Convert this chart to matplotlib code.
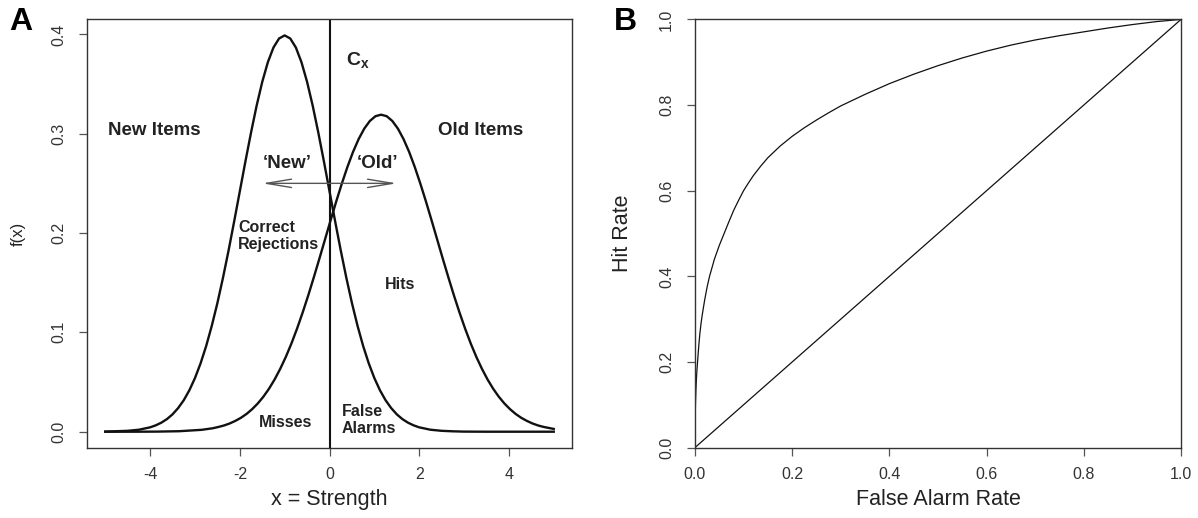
import matplotlib
matplotlib.use('Agg')
import matplotlib.pyplot as plt

plt.rcParams['font.family'] = ['Liberation Sans', 'DejaVu Sans']
plt.rcParams['mathtext.fontset'] = 'custom'
plt.rcParams['mathtext.rm'] = 'Liberation Sans'
plt.rcParams['mathtext.bf'] = 'Liberation Sans:bold'
plt.rcParams['axes.unicode_minus'] = False

# panel A: densities
new_x = [-5.0, -4.5, -4.25, -4.0, -3.875, -3.75, -3.625, -3.5, -3.375, -3.25, -3.125, -3.0,
         -2.875, -2.75, -2.625, -2.5, -2.375, -2.25, -2.125, -2.0, -1.875, -1.75, -1.625,
         -1.5, -1.375, -1.25, -1.125, -1.0, -0.875, -0.75, -0.625, -0.5, -0.375, -0.25,
         -0.125, 0.0, 0.125, 0.25, 0.375, 0.5, 0.625, 0.75, 0.875, 1.0, 1.125, 1.25, 1.375,
         1.5, 1.625, 1.75, 1.875, 2.0, 2.25, 2.5, 2.75, 3.0, 3.5, 4.0, 5.0]
new_y = [0.0001, 0.0009, 0.0020, 0.0044, 0.0064, 0.0091, 0.0127, 0.0175, 0.0238, 0.0317,
         0.0417, 0.054, 0.0688, 0.0863, 0.1066, 0.1295, 0.1550, 0.1826, 0.2119, 0.242,
         0.2721, 0.3011, 0.3282, 0.3521, 0.3719, 0.3867, 0.3958, 0.3989, 0.3958, 0.3867,
         0.3719, 0.3521, 0.3282, 0.3011, 0.2721, 0.242, 0.2119, 0.1826, 0.1550, 0.1295,
         0.1066, 0.0863, 0.0688, 0.054, 0.0417, 0.0317, 0.0238, 0.0175, 0.0127, 0.0091,
         0.0064, 0.0044, 0.0020, 0.0009, 0.0004, 0.0001, 0.0, 0.0, 0.0]

old_x = [-5.0, -4.35, -3.85, -3.35, -2.85, -2.6, -2.475, -2.35, -2.225, -2.1, -1.975, -1.85,
         -1.725, -1.6, -1.475, -1.35, -1.225, -1.1, -0.975, -0.85, -0.725, -0.6, -0.475,
         -0.35, -0.225, -0.1, 0.025, 0.15, 0.275, 0.4, 0.525, 0.65, 0.775, 0.9, 1.025, 1.15,
         1.275, 1.4, 1.525, 1.65, 1.775, 1.9, 2.025, 2.15, 2.275, 2.4, 2.525, 2.65, 2.775,
         2.9, 3.025, 3.15, 3.275, 3.4, 3.525, 3.65, 3.775, 3.9, 4.025, 4.15, 4.275, 4.4,
         4.525, 4.65, 4.775, 5.0]
old_y = [0.0, 0.0, 0.0001, 0.0005, 0.0019, 0.0035, 0.0048, 0.0063, 0.0083, 0.0109, 0.0140,
         0.0179, 0.0227, 0.0284, 0.0352, 0.0432, 0.0525, 0.0632, 0.0752, 0.0887, 0.1036,
         0.1198, 0.1371, 0.1554, 0.1743, 0.1936, 0.2129, 0.2318, 0.2498, 0.2666, 0.2817,
         0.2946, 0.3051, 0.3128, 0.3176, 0.3191, 0.3176, 0.3128, 0.3051, 0.2946, 0.2817,
         0.2666, 0.2498, 0.2318, 0.2129, 0.1936, 0.1743, 0.1554, 0.1371, 0.1198, 0.1036,
         0.0887, 0.0752, 0.0632, 0.0525, 0.0432, 0.0352, 0.0284, 0.0227, 0.0179, 0.0140,
         0.0109, 0.0083, 0.0063, 0.0048, 0.0028]

criterion = 0.0
arrow_left, arrow_right, arrow_y = -1.5, 1.5, 0.25

# panel B: ROC curve
fa_rate = [0.0, 0.0005, 0.001, 0.002, 0.003, 0.004, 0.006, 0.008, 0.01, 0.0125, 0.015, 0.02,
           0.025, 0.03, 0.035, 0.04, 0.05, 0.06, 0.07, 0.08, 0.09, 0.1, 0.11, 0.12, 0.135,
           0.15, 0.175, 0.2, 0.225, 0.25, 0.275, 0.3, 0.35, 0.4, 0.45, 0.5, 0.55, 0.6, 0.65,
           0.7, 0.75, 0.8, 0.85, 0.9, 0.95, 1.0]
hit_rate = [0.0, 0.07, 0.10, 0.135, 0.16, 0.18, 0.21, 0.24, 0.265, 0.29, 0.31, 0.345, 0.375,
            0.40, 0.42, 0.44, 0.472, 0.50, 0.528, 0.555, 0.578, 0.60, 0.618, 0.635, 0.657,
            0.677, 0.704, 0.727, 0.747, 0.765, 0.782, 0.798, 0.825, 0.85, 0.872, 0.892, 0.91,
            0.926, 0.94, 0.952, 0.962, 0.971, 0.98, 0.988, 0.995, 1.0]
chance = [0.0, 1.0]

fig = plt.figure(figsize=(11.98, 5.18), dpi=100)
ax1 = fig.add_axes([0.0729, 0.1359, 0.4043, 0.8266])
ax2 = fig.add_axes([0.5801, 0.1359, 0.4057, 0.8266])

ax1.plot(new_x, new_y, color='#111111', lw=1.7)
ax1.plot(old_x, old_y, color='#111111', lw=1.7)
ax1.axvline(criterion, color='#111111', lw=1.5)
ax1.annotate('', xy=(arrow_right, arrow_y), xytext=(arrow_left, arrow_y),
             arrowprops=dict(arrowstyle='<->,head_length=0.9,head_width=0.15',
                             color='#555555', lw=1, shrinkA=0, shrinkB=0, mutation_scale=20))

bold = dict(fontweight='bold', color='#222222')
ax1.text(-3.9, 0.303, 'New Items', ha='center', va='center', fontsize=13.5, **bold)
ax1.text(3.38, 0.303, 'Old Items', ha='center', va='center', fontsize=13.5, **bold)
ax1.text(-0.95, 0.270, '\u2018New\u2019', ha='center', va='center', fontsize=13.5, **bold)
ax1.text(1.08, 0.270, '\u2018Old\u2019', ha='center', va='center', fontsize=13.5, **bold)
ax1.text(0.63, 0.374, r'$\mathbf{C_x}$', ha='center', va='center', fontsize=14, color='#222222')
ax1.text(-2.04, 0.197, 'Correct\nRejections', ha='left', va='center', fontsize=11.5,
         linespacing=1.15, **bold)
ax1.text(1.57, 0.148, 'Hits', ha='center', va='center', fontsize=11.5, **bold)
ax1.text(-0.97, 0.009, 'Misses', ha='center', va='center', fontsize=11.5, **bold)
ax1.text(0.27, 0.0115, 'False\nAlarms', ha='left', va='center', fontsize=11.5,
         linespacing=1.15, **bold)

ax1.set_xlim(-5.4, 5.4)
ax1.set_ylim(-0.016, 0.415)
ax1.set_xticks([-4, -2, 0, 2, 4])
ax1.set_yticks([0.0, 0.1, 0.2, 0.3, 0.4])
ax1.set_yticklabels(['0.0', '0.1', '0.2', '0.3', '0.4'], rotation=90, va='center')

ax2.plot(fa_rate, hit_rate, color='#111111', lw=0.9)
ax2.plot(chance, chance, color='#111111', lw=0.9)
ax2.set_xlim(0, 1)
ax2.set_ylim(0, 1)
ax2.set_xticks([0.0, 0.2, 0.4, 0.6, 0.8, 1.0])
ax2.set_xticklabels(['0.0', '0.2', '0.4', '0.6', '0.8', '1.0'])
ax2.set_yticks([0.0, 0.2, 0.4, 0.6, 0.8, 1.0])
ax2.set_yticklabels(['0.0', '0.2', '0.4', '0.6', '0.8', '1.0'], rotation=90, va='center')

for ax in (ax1, ax2):
    for sp in ax.spines.values():
        sp.set_color('#333333')
        sp.set_linewidth(1.0)
    ax.tick_params(axis='both', direction='out', length=6, width=0.9, color='#555555',
                   labelsize=11.5, labelcolor='#333333')
    ax.tick_params(axis='x', pad=8)
    ax.tick_params(axis='y', pad=9)

fig.text(0.275, 0.035, 'x = Strength', ha='center', va='center', fontsize=15.5, color='#222222')
fig.text(0.015, 0.549, 'f(x)', ha='center', va='center', rotation=90, fontsize=12, color='#222222')
fig.text(0.783, 0.035, 'False Alarm Rate', ha='center', va='center', fontsize=15.5, color='#222222')
fig.text(0.52, 0.549, 'Hit Rate', ha='center', va='center', rotation=90, fontsize=15.5,
         color='#222222')
fig.text(0.017, 0.958, 'A', ha='center', va='center', fontsize=23, fontweight='bold')
fig.text(0.522, 0.958, 'B', ha='center', va='center', fontsize=23, fontweight='bold')

fig.savefig('out.png', dpi=100)
